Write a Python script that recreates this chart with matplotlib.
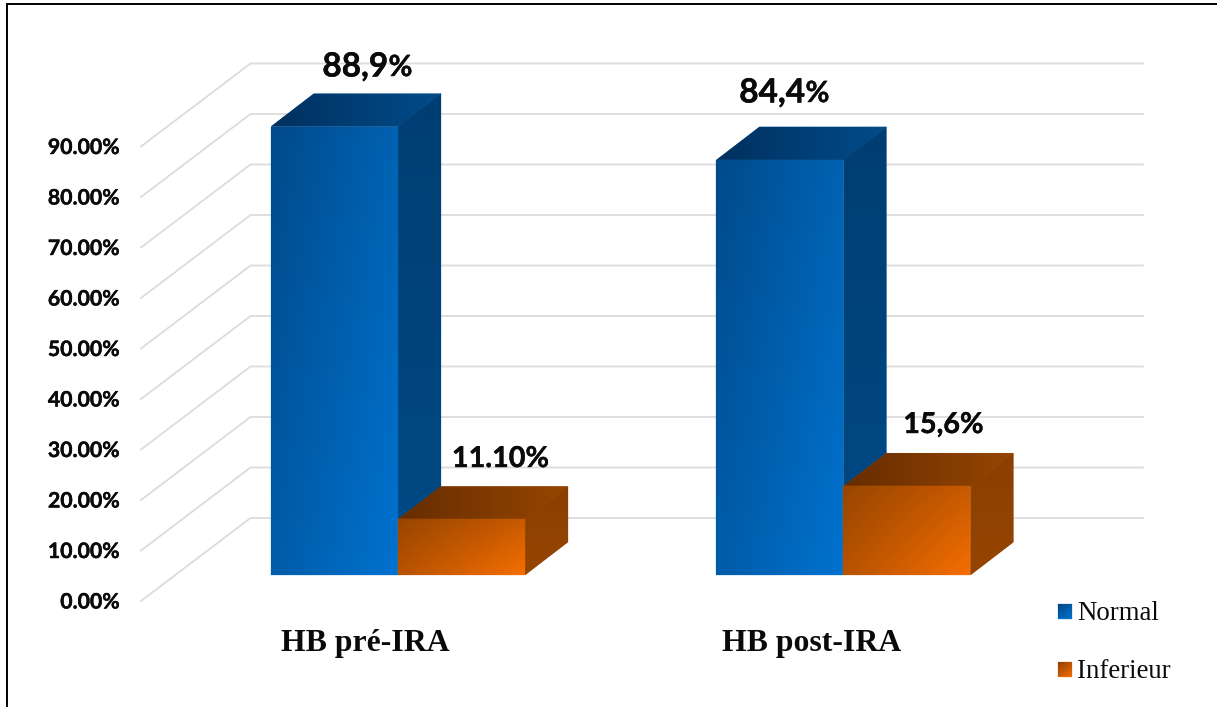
import numpy as np
import matplotlib
matplotlib.use("Agg")
import matplotlib.pyplot as plt
import matplotlib.patheffects as pe
from matplotlib.colors import to_rgb
from matplotlib.patches import Polygon

# ---- data ----
categories = ["HB pré-IRA", "HB post-IRA"]
series_names = ["Normal", "Inferieur"]
normal_heights = [88.8, 82.2]      # heights as drawn against the axis
inferieur_heights = [11.0, 17.6]
normal_labels = ["88,9", "84,4"]
inferieur_labels = ["11.10%", "15,6%"]
tick_values = [0, 10, 20, 30, 40, 50, 60, 70, 80, 90]
tick_labels = ["0.00%", "10.00%", "20.00%", "30.00%", "40.00%", "50.00%",
               "60.00%", "70.00%", "80.00%", "90.00%"]

# ---- layout: one full-figure axes with linear scales ----
W, H = 1217, 707
PX_PER_CAT = 445.5
PX_PER_PCT = 5.05
X0_PX, Y0_PX = 398.0, 575.0
def X(px): return (px - X0_PX) / PX_PER_CAT
def V(py): return (Y0_PX - py) / PX_PER_PCT

BAR_W = 127.0 / PX_PER_CAT
DX = 43.0 / PX_PER_CAT
DV = 33.0 / PX_PER_PCT
BOLD = [pe.withStroke(linewidth=0.3, foreground="#0a0a0a")]

fig = plt.figure(figsize=(W / 100, H / 100), dpi=100, facecolor="white")
ax = fig.add_axes([0, 0, 1, 1])
ax.set_axis_off()
ax.set_xlim(X(0), X(W))
ax.set_ylim(V(H), V(0))

def gradient(verts, tl, tr, bl, br, z):
    verts = np.array(verts)
    x0, x1 = verts[:, 0].min(), verts[:, 0].max()
    y0, y1 = verts[:, 1].min(), verts[:, 1].max()
    # solid underlay closes the hairline seams left by the clipped image
    ax.add_patch(Polygon(verts, closed=True, facecolor=br, edgecolor=br, lw=0.2, zorder=z - 0.01))
    u = np.linspace(0, 1, 64)[None, :, None]
    v = np.linspace(0, 1, 64)[:, None, None]
    c = lambda s: np.array(to_rgb(s))[None, None, :]
    img = (1 - v) * ((1 - u) * c(tl) + u * c(tr)) + v * ((1 - u) * c(bl) + u * c(br))
    im = ax.imshow(img, extent=(x0, x1, y0, y1), origin="upper", aspect="auto",
                   interpolation="bilinear", zorder=z)
    patch = Polygon(verts, closed=True, transform=ax.transData, facecolor="none", edgecolor="none")
    ax.add_patch(patch)
    im.set_clip_path(patch)

def bar3d(x, h, pal, z):
    f = [(x, 0), (x + BAR_W, 0), (x + BAR_W, h), (x, h)]
    top = [(x, h), (x + BAR_W, h), (x + BAR_W + DX, h + DV), (x + DX, h + DV)]
    side = [(x + BAR_W, 0), (x + BAR_W + DX, DV), (x + BAR_W + DX, h + DV), (x + BAR_W, h)]
    gradient(side, *pal["side"], z)
    gradient(top, *pal["top"], z + 0.1)
    gradient(f, *pal["front"], z + 0.2)

BLUE = {"front": ("#004a8a", "#0062b2", "#005ca8", "#0072cf"),
        "side": ("#003e72", "#003e72", "#004a86", "#004a86"),
        "top": ("#00305f", "#004c8a", "#00305f", "#004c8a")}
ORANGE = {"front": ("#984500", "#c85a00", "#b85300", "#f56e00"),
          "side": ("#8a3f00", "#8a3f00", "#964500", "#964500"),
          "top": ("#662d00", "#964500", "#662d00", "#964500")}

# ---- walls / gridlines ----
GRID = "#dcdcdc"
x_front, x_back, x_end = X(141), X(250.5), X(1143)
off_front, off_back = V(601), V(518)
for t, lab in zip(tick_values, tick_labels):
    ax.plot([x_front, x_back, x_end], [t + off_front, t + off_back, t + off_back],
            color=GRID, lw=1.3, zorder=1, solid_joinstyle="miter")
    ax.text(X(119.5), t + V(602.5), lab, ha="right", va="center", family="Lato",
            weight="bold", fontsize=15.3, color="#0a0a0a", zorder=5, path_effects=BOLD)

# ---- bars ----
for i in range(len(categories)):
    bar3d(i - BAR_W, normal_heights[i], BLUE, 2 + i)
    bar3d(i, inferieur_heights[i], ORANGE, 2.5 + i)

# ---- value labels ----
value_anchor_px = [(388, 67), (805, 93)]
for (px, py), s in zip(value_anchor_px, normal_labels):
    ax.text(X(px), V(py), s, ha="right", va="center", family="Lato", weight="bold",
            fontsize=24, color="#0a0a0a", zorder=6, path_effects=BOLD)
    ax.text(X(px + 0.5), V(py + 1), "%", ha="left", va="center", family="Lato", weight="bold",
            fontsize=21, color="#0a0a0a", zorder=6, path_effects=BOLD)
small_anchor_px = [(500.5, 459), (943.5, 425)]
for (px, py), s in zip(small_anchor_px, inferieur_labels):
    ax.text(X(px), V(py), s, ha="center", va="center", family="Lato", weight="bold",
            fontsize=20.7, color="#0a0a0a", zorder=6, path_effects=BOLD)

# ---- category labels ----
for cx, c in zip([365, 811.5], categories):
    ax.text(X(cx), V(651), c, ha="center", va="baseline", family="Liberation Serif",
            weight="bold", fontsize=22.9, color="#0a0a0a", zorder=6)

# ---- legend ----
leg_pal = [("#003f7a", "#005ca8", "#0060b0", "#0070c8"), ("#8a3f00", "#b85300", "#c85a00", "#ee6a00")]
for (ytop, name, pal) in zip([604, 662], series_names, leg_pal):
    sq = [(X(1058), V(ytop)), (X(1072), V(ytop)), (X(1072), V(ytop + 14.5)), (X(1058), V(ytop + 14.5))]
    gradient(sq, *pal, 6)
    ax.text(X(1077), V(ytop + 16.5), name, ha="left", va="baseline", family="Liberation Serif",
            fontsize=19.3, color="#0a0a0a", zorder=6)

# ---- image frame ----
ax.plot([X(6.5), X(6.5), X(W)], [V(H), V(4), V(4)], color="black", lw=1.4, zorder=7,
        solid_joinstyle="miter", clip_on=False)

ax.set_xlim(X(0), X(W))
ax.set_ylim(V(H), V(0))
fig.savefig("out.png", dpi=100, facecolor="white")
